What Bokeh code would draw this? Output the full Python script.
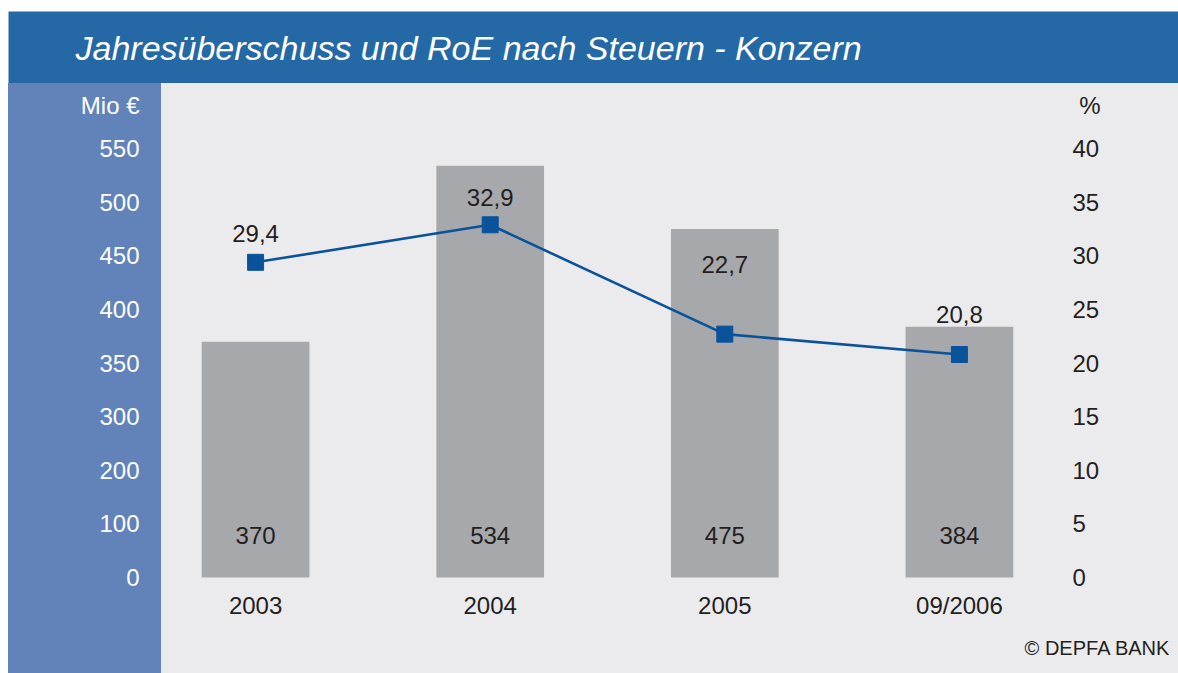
import numpy as np
from bokeh.plotting import figure
from bokeh.layouts import row, column
from bokeh.models import (Range1d, FactorRange, LinearAxis, CategoricalAxis, FixedTicker,
                          Label, ColumnDataSource, Spacer, Title)
from bokeh.core.properties import value
from bokeh.embed import file_html
from bokeh.resources import INLINE

# ---- data ----
categories = ["2003", "2004", "2005", "09/2006"]
net_income = [370, 534, 475, 384]          # Mio €
roe = [29.4, 32.9, 22.7, 20.8]              # %
roe_text = ["29,4", "32,9", "22,7", "20,8"]
left_tick_values = [0, 100, 200, 300, 350, 400, 450, 500, 550]
left_tick_labels = ["0", "100", "200", "300", "350", "400", "450", "500", "550"]
right_ticks = [0, 5, 10, 15, 20, 25, 30, 35, 40]
title_text = "Jahresüberschuss und RoE nach Steuern - Konzern"
left_unit = "Mio €"
right_unit = "%"
credit = "© DEPFA BANK"

# label placement (pixels above marker)
roe_label_dy = [29, 27, 70, 40]

# broken left scale: evenly spaced tick positions
positions = list(range(len(left_tick_values)))
bar_top = list(np.interp(net_income, left_tick_values, positions))
UNIT_POS = 8.81          # axis position where the unit captions sit (above the top tick)

FONT = "Liberation Sans"
DARK = "#231f20"
GREY_BG = "#ebebed"
BLUE_TITLE = "#2469a6"
BLUE_COL = "#6183b9"

y_rng = Range1d(-0.056, 9.216)
roe_rng = Range1d(-0.28, 46.08)

# ---------- title strip ----------
tfig = figure(width=1178, height=83, output_backend="svg", toolbar_location=None,
              x_range=Range1d(8, 1178), y_range=Range1d(83, 11),
              x_axis_location=None, y_axis_location=None,
              min_border_left=8, min_border_top=11, min_border_right=0, min_border_bottom=0,
              outline_line_color=None, background_fill_color=BLUE_TITLE, border_fill_color=None)
tfig.grid.visible = False
tfig.add_layout(Label(x=75, y=47, text=title_text, text_font=FONT, text_font_size="34px",
                      text_font_style="italic", text_color="white", text_baseline="middle"))

# ---------- left blue column with the Mio € axis ----------
lfig = figure(width=153, height=590, output_backend="svg", toolbar_location=None,
              x_range=Range1d(0, 1), y_range=y_rng, x_axis_location=None, y_axis_location=None,
              min_border_left=145, min_border_right=0, min_border_top=0, min_border_bottom=93,
              outline_line_color=None, background_fill_color=BLUE_COL, border_fill_color=None,
              styles={"background-color": BLUE_COL})
lfig.grid.visible = False
lax = LinearAxis(ticker=FixedTicker(ticks=positions + [UNIT_POS]),
                 major_label_overrides={**{pp: l for pp, l in zip(positions, left_tick_labels)},
                                        UNIT_POS: left_unit},
                 axis_line_color=None, major_tick_line_color=None, minor_tick_line_color=None,
                 major_label_standoff=8, major_label_text_font=FONT, major_label_text_font_size="24px",
                 major_label_text_color="white")
lfig.add_layout(lax, "left")

# ---------- main chart ----------
p = figure(width=1017, height=590, output_backend="svg", toolbar_location=None,
           x_range=FactorRange(*categories, range_padding=-0.099, range_padding_units="absolute"),
           y_range=y_rng, x_axis_location=None, y_axis_location=None,
           min_border_left=0, min_border_right=125, min_border_top=0, min_border_bottom=93,
           outline_line_color=None, background_fill_color=GREY_BG, border_fill_color=None,
           styles={"background-color": GREY_BG})
p.grid.visible = False
p.extra_y_ranges = {"roe": roe_rng}

src = ColumnDataSource(dict(cat=categories, top=bar_top, val=[str(v) for v in net_income],
                            roe=roe, roe_text=roe_text, dy=[-d for d in roe_label_dy]))

p.vbar(x="cat", top="top", bottom=0, width=0.459, source=src, fill_color="#a7a8ac", line_color=None)
p.text(x="cat", y=0, text="val", source=src, y_offset=-42, text_align="center", text_baseline="middle",
       text_font=value(FONT), text_font_size="24px", text_color=DARK)

p.line(x="cat", y="roe", source=src, y_range_name="roe", line_color="#0a539b", line_width=2.6)
p.scatter(x="cat", y="roe", source=src, y_range_name="roe", marker="square", size=16,
          fill_color="#0a539b", line_color="#0a539b")
p.text(x="cat", y="roe", text="roe_text", source=src, y_range_name="roe", y_offset="dy",
       text_align="center", text_baseline="middle", text_font=value(FONT), text_font_size="24px",
       text_color=DARK)

xax = CategoricalAxis(axis_line_color=None, major_tick_line_color=None, major_label_standoff=5,
                      major_label_text_font=FONT, major_label_text_font_size="24px",
                      major_label_text_color=DARK)
p.add_layout(xax, "below")

ROE_UNIT_POS = UNIT_POS * 5
rax = LinearAxis(y_range_name="roe", ticker=FixedTicker(ticks=right_ticks + [ROE_UNIT_POS]),
                 major_label_overrides={ROE_UNIT_POS: "\u00a0" + right_unit},
                 axis_line_color=None, major_tick_line_color=None, minor_tick_line_color=None,
                 major_label_standoff=13, major_label_text_font=FONT, major_label_text_font_size="24px",
                 major_label_text_color=DARK)
p.add_layout(rax, "right")

# credit line, set in the panel below the category axis
p.add_layout(Title(text=credit, align="right", offset=-117, standoff=26, text_font=FONT,
                   text_font_size="20px", text_font_style="normal", text_color=DARK), "below")

layout = column(tfig,
                row(Spacer(width=8, height=590), lfig, p, spacing=0),
                spacing=0)

open("out.html", "w").write(file_html(layout, INLINE))
